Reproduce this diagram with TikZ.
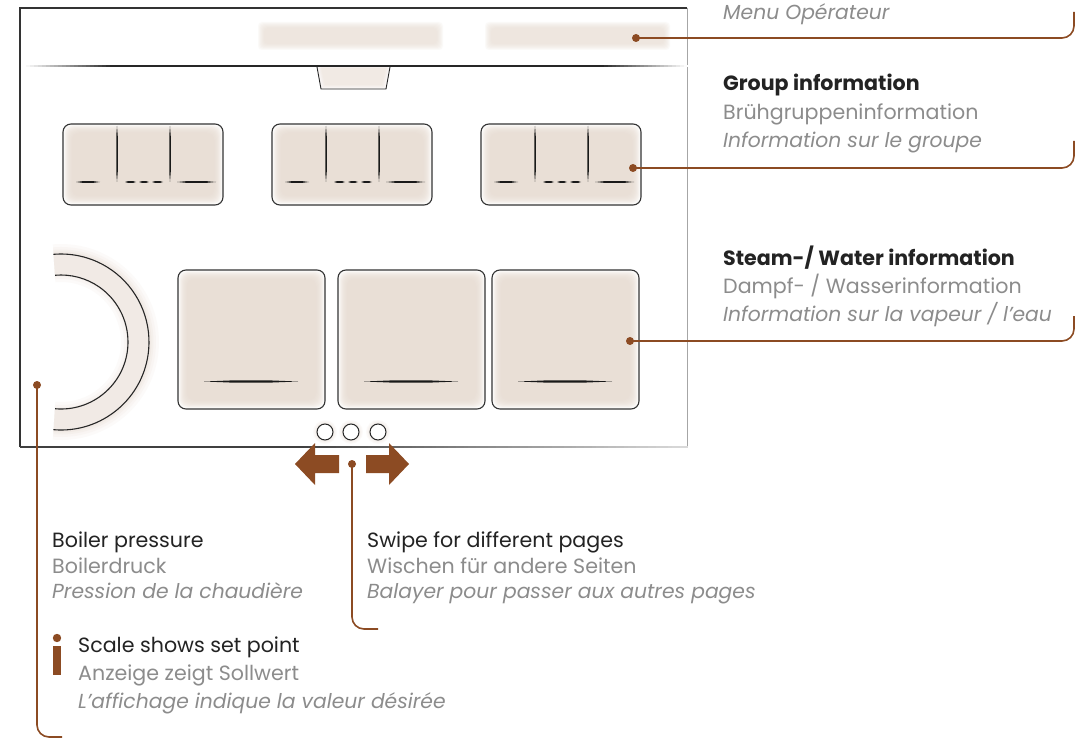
\documentclass[tikz,border=0pt]{standalone}
\usepackage{fontspec}
\setmainfont{Poppins}
\usetikzlibrary{calc}
\definecolor{brn}{RGB}{140,75,35}
\definecolor{beige}{RGB}{232,220,210}
\definecolor{headc}{RGB}{35,35,35}
\definecolor{grayc}{RGB}{140,140,140}
\newcommand{\softbox}[5]{%
  \fill[white, rounded corners=#5] (#1,#2) rectangle (#3,#4);
  \foreach \d in {1,...,9} {\fill[beige, opacity=0.2, rounded corners=#5] ($(#1,#2)+(\d,\d)$) rectangle ($(#3,#4)+(-\d,-\d)$);}
  \draw[black!80, line width=1.1pt, rounded corners=#5] (#1,#2) rectangle (#3,#4);
}
% tapered horizontal bar: x1 x2 y halfwidth taper
\newcommand{\hlens}[5]{\fill[black!90] (#1,#3) -- (#1+#5,#3-#4) -- (#2-#5,#3-#4) -- (#2,#3) -- (#2-#5,#3+#4) -- (#1+#5,#3+#4) -- cycle;}
% tapered vertical bar: y1 y2 x halfwidth taper
\newcommand{\vlens}[5]{\fill[black!90] (#3,#1) -- (#3-#4,#1+#5) -- (#3-#4,#2-#5) -- (#3,#2) -- (#3+#4,#2-#5) -- (#3+#4,#1+#5) -- cycle;}
\newcommand{\groupbox}[1]{%
  \softbox{#1}{124}{#1+160}{205}{8pt}
  \vlens{126}{182}{#1+54}{0.75}{10}
  \vlens{126}{182}{#1+107}{0.75}{10}
  \hlens{#1+13}{#1+37}{182}{0.9}{7}
  \hlens{#1+62}{#1+73}{182}{0.9}{3}
  \hlens{#1+76}{#1+86}{182}{0.9}{3}
  \hlens{#1+89}{#1+100}{182}{0.9}{3}
  \hlens{#1+114}{#1+153}{182}{0.9}{10}
}
\newcommand{\bigbox}[1]{%
  \softbox{#1}{270}{#1+147}{409}{8pt}
  \hlens{#1+26}{#1+120}{381.5}{1.1}{28}
}
\tikzset{
  conn/.style={draw=brn, line width=1.6pt, rounded corners=12pt},
  dotn/.style={circle, fill=brn, inner sep=0pt, minimum size=8pt},
  pagedot/.style={circle, draw=black!85, line width=1pt, inner sep=0pt, minimum size=16pt, fill=white},
  head/.style={anchor=base west, inner sep=0pt, text=headc, font=\fontsize{20.6}{24}\selectfont},
  headb/.style={anchor=base west, inner sep=0pt, text=headc, font=\fontsize{20.6}{24}\selectfont\bfseries},
  sub/.style={anchor=base west, inner sep=0pt, text=grayc, font=\fontsize{20.6}{24}\selectfont},
  subi/.style={anchor=base west, inner sep=0pt, text=grayc, font=\fontsize{20.3}{24}\selectfont\itshape},
  arr/.style={fill=brn}
}
\begin{document}
\begin{tikzpicture}[x=1pt,y=-1pt]
\useasboundingbox (0,0) rectangle (1089,738);
\fill[white] (0,0) rectangle (1089,738);

% screen frame
\draw[black!80, line width=1.2pt] (20,447) -- (20,8) -- (687,8);
\draw[black!35, line width=1pt] (687,8) -- (687,447);
\fill[black!75] (20,446) rectangle (300,448);
\foreach \x in {300,304,...,684} {\pgfmathtruncatemacro\p{75-(\x-300)/384*60} \fill[black!\p] (\x,446) rectangle (\x+4.3,448);}

% top blurred bars
\foreach \xa in {258,485} {
  \foreach \d in {0,...,6} {\fill[beige, opacity=0.14, rounded corners=4pt] (\xa+\d,22+\d) rectangle (\xa+185-\d,50-\d);}
}
% separator line
\foreach \x in {22,26,...,106} {\pgfmathtruncatemacro\p{(\x-22)/88*85} \fill[black!\p] (\x,65.5) rectangle (\x+4.3,67.5);}
\fill[black!85] (110,65.5) rectangle (600,67.5);
\foreach \x in {600,604,...,684} {\pgfmathtruncatemacro\p{85-(\x-600)/86*85} \fill[black!\p] (\x,65.5) rectangle (\x+4.3,67.5);}
% tab
\foreach \d in {0,...,4} {\fill[beige, opacity=0.15] (317+\d,67.5) -- (321+\d,89-\d) -- (386-\d,89-\d) -- (390-\d,67.5) -- cycle;}
\draw[black!85, line width=0.9pt] (317,67) -- (321,89) -- (386,89) -- (390,67);

% group boxes
\groupbox{63}
\groupbox{272}
\groupbox{481}

% gauge
\foreach \w/\o in {38/0.12,32/0.15,27/0.2,23/0.25} {
  \draw[beige, line width=\w pt, opacity=\o] (61,342) ++(95:79) arc[start angle=95, end angle=-95, radius=79];
}
\draw[black!85, line width=1.1pt] (61,342) ++(95:88) arc[start angle=95, end angle=-95, radius=88];
\draw[black!85, line width=1.1pt] (61,342) ++(95:67) arc[start angle=95, end angle=-95, radius=67];

% big boxes
\bigbox{178}
\bigbox{338}
\bigbox{492}

% page dots
\foreach \d in {0,...,3} {\fill[beige, opacity=0.12] (325,432) circle ({12-\d}); \fill[beige, opacity=0.12] (351,432) circle ({12-\d}); \fill[beige, opacity=0.12] (378,432) circle ({12-\d});}
\node[pagedot] (p1) at (325,432) {};
\node[pagedot] (p2) at (351,432) {};
\node[pagedot] (p3) at (378,432) {};

% swipe arrows
\fill[arr] (295,464) -- (315,443) -- (315,455) -- (339,455) -- (339,473) -- (315,473) -- (315,485) -- cycle;
\fill[arr] (409,464) -- (389,443) -- (389,455) -- (366,455) -- (366,473) -- (389,473) -- (389,485) -- cycle;

% dots and connectors
\node[dotn] (dmenu) at (636,38) {};
\coordinate (emenu) at (1074,12);
\draw[conn] (dmenu.center) -| (emenu);

\node[dotn] (dgroup) at (633,168) {};
\coordinate (egroup) at (1074,141);
\draw[conn] (dgroup.center) -| (egroup);

\node[dotn] (dsteam) at (630,341) {};
\coordinate (esteam) at (1074,316);
\draw[conn] (dsteam.center) -| (esteam);

\node[dotn] (dboil) at (37,385) {};
\coordinate (eboil) at (62,737);
\draw[conn] (dboil.center) |- (eboil);

\node[dotn] (dswipe) at (352,464) {};
\coordinate (eswipe) at (378,629);
\draw[conn] (dswipe.center) |- (eswipe);

% texts right
\node[subi] (tmenu) at (723,20) {Menu Opérateur};
\node[headb] (tg1) at (723,91) {Group information};
\node[sub] (tg2) at (723,120) {Brühgruppeninformation};
\node[subi] (tg3) at (723,148) {Information sur le groupe};
\node[headb] (ts1) at (723,265) {Steam-/ Water information};
\node[sub] (ts2) at (723,293) {Dampf- / Wasserinformation};
\node[subi] (ts3) at (723,321) {Information sur la vapeur / l’eau};

% texts bottom
\node[head] (tb1) at (52,547) {Boiler pressure};
\node[sub] (tb2) at (52,573) {Boilerdruck};
\node[subi] (tb3) at (52,598) {Pression de la chaudière};
\node[head] (tw1) at (367,547) {Swipe for different pages};
\node[sub] (tw2) at (367,573) {Wischen für andere Seiten};
\node[subi] (tw3) at (367,598) {Balayer pour passer aux autres pages};

% info
\fill[brn] (57,638) circle (4.2);
\fill[brn] (53,646) rectangle (61,675);
\node[head] (tc1) at (78,652) {Scale shows set point};
\node[sub] (tc2) at (78,680) {Anzeige zeigt Sollwert};
\node[subi] (tc3) at (78,708) {L’affichage indique la valeur désirée};
\end{tikzpicture}
\end{document}
